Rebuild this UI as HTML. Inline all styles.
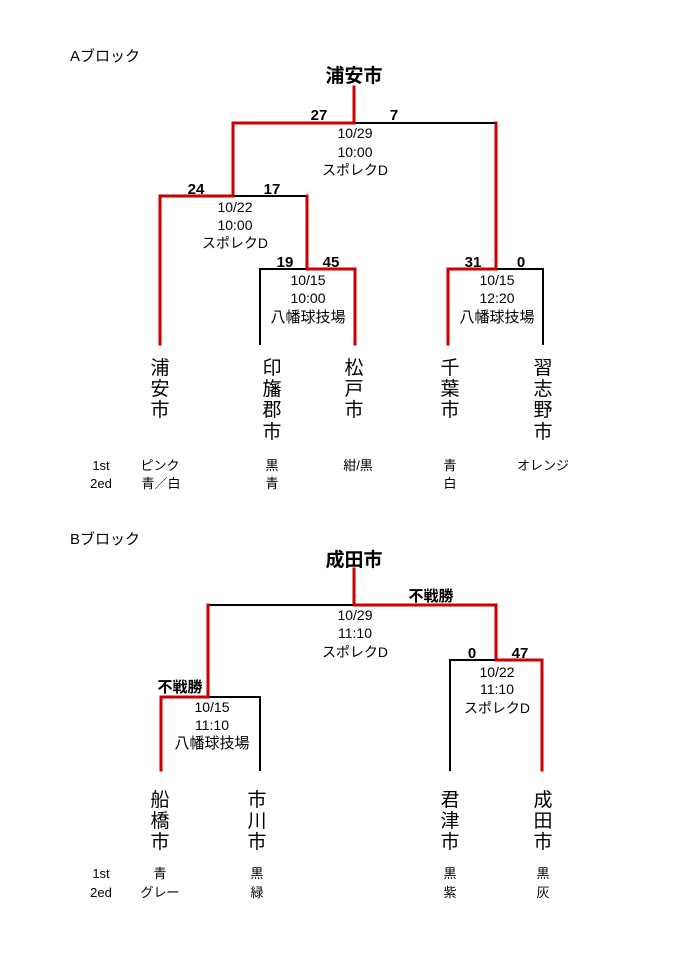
<!DOCTYPE html>
<html><head><meta charset="utf-8"><style>
html,body{margin:0;padding:0;background:#fff;}
svg{display:block;}
text{font-family:"Liberation Sans","Noto Sans CJK JP",sans-serif;fill:#000;}
.t{font-size:19px;font-weight:bold;}
.s{font-size:15px;font-weight:bold;}
.d{font-size:14px;}
.v{font-size:15px;}
.n{font-size:19px;}
.c{font-size:13px;}
.h{font-size:15px;}
</style></head><body>
<svg width="674" height="960" viewBox="0 0 674 960" xmlns="http://www.w3.org/2000/svg">
<g fill="none" stroke-linecap="square">
<!-- A block black -->
<g stroke="#000" stroke-width="2">
<line x1="354" y1="123" x2="496" y2="123"/>
<line x1="233" y1="196" x2="307" y2="196"/>
<line x1="260" y1="269" x2="307" y2="269"/>
<line x1="260" y1="269" x2="260" y2="344"/>
<line x1="496" y1="269" x2="543" y2="269"/>
<line x1="543" y1="269" x2="543" y2="344"/>
</g>
<g stroke="#cc0000" stroke-width="3">
<line x1="354" y1="87" x2="354" y2="123"/>
<line x1="233" y1="123" x2="354" y2="123"/>
<line x1="233" y1="123" x2="233" y2="196"/>
<line x1="496" y1="123" x2="496" y2="269"/>
<line x1="160" y1="196" x2="233" y2="196"/>
<line x1="160" y1="196" x2="160" y2="344"/>
<line x1="307" y1="196" x2="307" y2="269"/>
<line x1="307" y1="269" x2="355" y2="269"/>
<line x1="355" y1="269" x2="355" y2="344"/>
<line x1="448" y1="269" x2="496" y2="269"/>
<line x1="448" y1="269" x2="448" y2="344"/>
</g>
<!-- B block black -->
<g stroke="#000" stroke-width="2">
<line x1="208" y1="605" x2="354" y2="605"/>
<line x1="450" y1="660" x2="496" y2="660"/>
<line x1="450" y1="660" x2="450" y2="770"/>
<line x1="208" y1="697" x2="260" y2="697"/>
<line x1="260" y1="697" x2="260" y2="770"/>
</g>
<g stroke="#cc0000" stroke-width="3">
<line x1="354" y1="569" x2="354" y2="605"/>
<line x1="354" y1="605" x2="496" y2="605"/>
<line x1="208" y1="605" x2="208" y2="697"/>
<line x1="496" y1="605" x2="496" y2="660"/>
<line x1="496" y1="660" x2="542" y2="660"/>
<line x1="542" y1="660" x2="542" y2="770"/>
<line x1="161" y1="697" x2="208" y2="697"/>
<line x1="161" y1="697" x2="161" y2="770"/>
</g>
</g>

<!-- A block text -->
<text class="h" x="70" y="61">Aブロック</text>
<text class="t" x="354" y="82" text-anchor="middle">浦安市</text>
<g class="s" text-anchor="middle">
<text class="s" x="319" y="120">27</text>
<text class="s" x="394" y="120">7</text>
<text class="s" x="196" y="194">24</text>
<text class="s" x="272" y="194">17</text>
<text class="s" x="285" y="267">19</text>
<text class="s" x="331" y="267">45</text>
<text class="s" x="473" y="267">31</text>
<text class="s" x="521" y="267">0</text>
</g>
<g text-anchor="middle">
<text class="d" x="355" y="138">10/29</text>
<text class="d" x="355" y="157">10:00</text>
<text class="d" x="355" y="175">スポレクD</text>
<text class="d" x="235" y="212">10/22</text>
<text class="d" x="235" y="230">10:00</text>
<text class="d" x="235" y="248">スポレクD</text>
<text class="d" x="308" y="285">10/15</text>
<text class="d" x="308" y="303">10:00</text>
<text class="v" x="308" y="322">八幡球技場</text>
<text class="d" x="497" y="285">10/15</text>
<text class="d" x="497" y="303">12:20</text>
<text class="v" x="497" y="322">八幡球技場</text>

<text class="n" x="160" y="374">浦</text>
<text class="n" x="160" y="395">安</text>
<text class="n" x="160" y="416">市</text>
<text class="n" x="272" y="374">印</text>
<text class="n" x="272" y="395">旛</text>
<text class="n" x="272" y="416">郡</text>
<text class="n" x="272" y="438">市</text>
<text class="n" x="354" y="374">松</text>
<text class="n" x="354" y="395">戸</text>
<text class="n" x="354" y="416">市</text>
<text class="n" x="450" y="374">千</text>
<text class="n" x="450" y="395">葉</text>
<text class="n" x="450" y="416">市</text>
<text class="n" x="543" y="374">習</text>
<text class="n" x="543" y="395">志</text>
<text class="n" x="543" y="416">野</text>
<text class="n" x="543" y="438">市</text>

<text class="c" x="101" y="470">1st</text>
<text class="c" x="101" y="488">2ed</text>
<text class="c" x="160" y="470">ピンク</text>
<text class="c" x="161" y="488">青／白</text>
<text class="c" x="272" y="470">黒</text>
<text class="c" x="272" y="488">青</text>
<text class="c" x="358" y="470">紺/黒</text>
<text class="c" x="450" y="470">青</text>
<text class="c" x="450" y="488">白</text>
<text class="c" x="543" y="470">オレンジ</text>
</g>

<!-- B block text -->
<text class="h" x="70" y="544">Bブロック</text>
<text class="t" x="354" y="566" text-anchor="middle">成田市</text>
<g text-anchor="middle">
<text class="s" x="431" y="601">不戦勝</text>
<text class="s" x="180" y="692">不戦勝</text>
<text class="s" x="472" y="658">0</text>
<text class="s" x="520" y="658">47</text>

<text class="d" x="355" y="620">10/29</text>
<text class="d" x="355" y="638">11:10</text>
<text class="d" x="355" y="657">スポレクD</text>
<text class="d" x="497" y="677">10/22</text>
<text class="d" x="497" y="694">11:10</text>
<text class="d" x="497" y="713">スポレクD</text>
<text class="d" x="212" y="712">10/15</text>
<text class="d" x="212" y="730">11:10</text>
<text class="v" x="212" y="748">八幡球技場</text>

<text class="n" x="160" y="806">船</text>
<text class="n" x="160" y="827">橋</text>
<text class="n" x="160" y="848">市</text>
<text class="n" x="257" y="806">市</text>
<text class="n" x="257" y="827">川</text>
<text class="n" x="257" y="848">市</text>
<text class="n" x="450" y="806">君</text>
<text class="n" x="450" y="827">津</text>
<text class="n" x="450" y="848">市</text>
<text class="n" x="543" y="806">成</text>
<text class="n" x="543" y="827">田</text>
<text class="n" x="543" y="848">市</text>

<text class="c" x="101" y="878">1st</text>
<text class="c" x="101" y="897">2ed</text>
<text class="c" x="160" y="878">青</text>
<text class="c" x="160" y="897">グレー</text>
<text class="c" x="257" y="878">黒</text>
<text class="c" x="257" y="897">緑</text>
<text class="c" x="450" y="878">黒</text>
<text class="c" x="450" y="897">紫</text>
<text class="c" x="543" y="878">黒</text>
<text class="c" x="543" y="897">灰</text>
</g>
</svg>
</body></html>
